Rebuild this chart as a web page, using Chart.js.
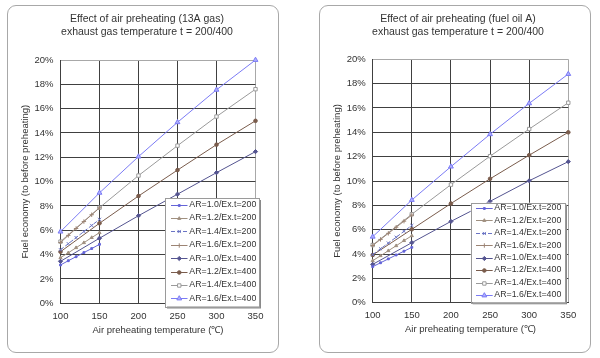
<!DOCTYPE html>
<html><head><meta charset="utf-8">
<script src="https://cdn.jsdelivr.net/npm/chart.js@4.4.1/dist/chart.umd.min.js"></script>
<style>
html,body{margin:0;padding:0;background:#fff;}
body{width:600px;height:358px;position:relative;overflow:hidden;}
.panel{position:absolute;top:5px;height:348px;border:1px solid #a8a8a8;border-radius:9px;box-sizing:border-box;background:#fff;}
canvas{position:absolute;top:5px;}
</style></head><body>
<div class="panel" style="left:7px;width:272px"></div>
<div class="panel" style="left:319px;width:272px"></div>
<canvas id="c1" width="271" height="348" style="left:8px"></canvas>
<canvas id="c2" width="271" height="348" style="left:320px"></canvas>
<script>
// ---------- DATA ----------
const xTickValues = [100, 150, 200, 250, 300, 350];
const xT200 = [100, 110, 120, 130, 140, 150];
const xT400 = [100, 150, 200, 250, 300, 350];
const seriesLabels = ['AR=1.0/Ex.t=200','AR=1.2/Ex.t=200','AR=1.4/Ex.t=200','AR=1.6/Ex.t=200',
                      'AR=1.0/Ex.t=400','AR=1.2/Ex.t=400','AR=1.4/Ex.t=400','AR=1.6/Ex.t=400'];
const titleGas = ['Effect of air preheating (13A gas)', 'exhaust gas temperature t = 200/400'];
const titleOil = ['Effect of air preheating (fuel oil A)', 'exhaust gas temperature t = 200/400'];
const xTitle = 'Air preheating temperature (\u2103)';
const yTitle = 'Fuel economy (to before preheating)';

// 13A gas (percent)
const gasAR10t200 = [3.15, 3.5, 3.83, 4.17, 4.5, 4.85];
const gasAR12t200 = [3.75, 4.15, 4.57, 4.98, 5.4, 5.8];
const gasAR14t200 = [4.4, 4.9, 5.4, 5.9, 6.4, 6.9];
const gasAR16t200 = [5.0, 5.58, 6.15, 6.72, 7.28, 7.85];
const gasAR10t400 = [3.45, 5.35, 7.2, 8.97, 10.74, 12.47];
const gasAR12t400 = [4.24, 6.58, 8.82, 10.95, 13.04, 15.0];
const gasAR14t400 = [5.07, 7.86, 10.5, 12.96, 15.35, 17.6];
const gasAR16t400 = [5.89, 9.08, 12.06, 14.88, 17.55, 20.0];

// fuel oil A (percent)
const oilAR10t200 = [2.96, 3.28, 3.6, 3.92, 4.23, 4.55];
const oilAR12t200 = [3.45, 3.86, 4.27, 4.68, 5.1, 5.5];
const oilAR14t200 = [3.95, 4.43, 4.9, 5.38, 5.87, 6.35];
const oilAR16t200 = [4.7, 5.2, 5.7, 6.2, 6.7, 7.2];
const oilAR10t400 = [3.15, 4.93, 6.68, 8.33, 10.02, 11.59];
const oilAR12t400 = [3.92, 6.03, 8.15, 10.18, 12.12, 14.0];
const oilAR14t400 = [4.74, 7.27, 9.7, 12.04, 14.27, 16.43];
const oilAR16t400 = [5.42, 8.44, 11.18, 13.84, 16.38, 18.79];

// ---------- STYLES ----------
const styles = [
  {color:'#6464d8', pointStyle:'rect', radius:1.3, dash:[], fill:'#6464d8'},
  {color:'#a09080', pointStyle:'triangle', radius:1.8, dash:[], fill:'#a09080'},
  {color:'#6a74c4', pointStyle:'crossRot', radius:2.2, dash:[4,2], fill:'#6a74c4'},
  {color:'#9c8474', pointStyle:'cross', radius:2.2, dash:[], fill:'#9c8474'},
  {color:'#545490', pointStyle:'rectRot', radius:2.1, dash:[], fill:'#545490'},
  {color:'#7a5c4c', pointStyle:'circle', radius:1.8, dash:[], fill:'#7a5c4c'},
  {color:'#9a9a9a', pointStyle:'rect', radius:2.4, dash:[], fill:'#ffffff'},
  {color:'#7b7bf5', pointStyle:'triangle', radius:2.8, dash:[], fill:'#b0b0ff'}
];

function pts(xs, ys){ return xs.map((x,i)=>({x:x, y:ys[i]})); }

function makeDatasets(vals){
  return vals.map((v,i)=>({
    label: seriesLabels[i],
    data: pts(i<4 ? xT200 : xT400, v),
    borderColor: styles[i].color,
    backgroundColor: styles[i].fill,
    pointBorderColor: styles[i].color,
    pointBackgroundColor: styles[i].fill,
    pointStyle: styles[i].pointStyle,
    pointRadius: styles[i].radius,
    pointBorderWidth: 1,
    borderWidth: 1,
    borderDash: styles[i].dash,
    tension: 0,
    clip: 6
  }));
}

const FONT = '"Liberation Sans", Arial, sans-serif';

const boxLegend = {
  id: 'boxLegend',
  afterDatasetsDraw(chart, args, o) {
    const ctx = chart.ctx;
    ctx.save();
    ctx.fillStyle = '#8a8a8a';
    ctx.fillRect(o.x + 2, o.y + 2, o.w, o.h);
    ctx.fillStyle = '#ffffff';
    ctx.fillRect(o.x, o.y, o.w, o.h);
    ctx.strokeStyle = '#9a9a9a';
    ctx.lineWidth = 1;
    ctx.strokeRect(Math.round(o.x) + 0.5, Math.round(o.y) + 0.5, Math.round(o.w), Math.round(o.h));
    ctx.font = '8.8px ' + FONT;
    ctx.textBaseline = 'middle';
    ctx.textAlign = 'left';
    chart.data.datasets.forEach((ds, i) => {
      const y = o.row0 + i * o.rowH;
      const st = styles[i];
      ctx.strokeStyle = st.color;
      ctx.lineWidth = 1;
      ctx.setLineDash(st.dash);
      ctx.beginPath();
      ctx.moveTo(o.s0, Math.round(y) + 0.5);
      ctx.lineTo(o.s1, Math.round(y) + 0.5);
      ctx.stroke();
      ctx.setLineDash([]);
      ctx.fillStyle = st.fill;
      Chart.helpers.drawPoint(ctx, {pointStyle: st.pointStyle, radius: st.radius, rotation: 0, borderWidth: 1}, (o.s0 + o.s1) / 2, Math.round(y) + 0.5);
      ctx.fillStyle = '#333333';
      ctx.fillText(ds.label, o.tx, y);
    });
    ctx.restore();
  }
};

function makeChart(id, vals, title, lay) {
  const W = 271, H = 348;
  return new Chart(document.getElementById(id), {
    type: 'line',
    data: { datasets: makeDatasets(vals) },
    options: {
      responsive: false,
      animation: false,
      devicePixelRatio: 1,
      layout: { padding: { left: lay.padL, top: 0, bottom: 0, right: 0 } },
      plugins: {
        legend: { display: false },
        tooltip: { enabled: false },
        title: {
          display: true,
          text: title,
          color: '#333333',
          font: { family: FONT, size: 10.5, weight: 'normal', lineHeight: 1.25 },
          padding: { top: lay.titleTop, bottom: lay.top - lay.titleTop - 26.25 }
        },
        boxLegend: lay.legend
      },
      scales: {
        x: {
          type: 'linear',
          min: 100, max: 350,
          afterBuildTicks: (s) => { s.ticks = xTickValues.map(v => ({value: v})); },
          afterFit: (s) => { s.height = H - lay.bottom; },
          ticks: { color: '#333333', font: { family: FONT, size: 9.5 }, padding: 7, maxRotation: 0 },
          grid: { color: (c) => (c.tick && c.tick.value === 350) ? '#a8a8a8' : '#404040', lineWidth: 1, drawTicks: false },
          border: { color: '#404040', width: 1 },
          title: { display: true, text: xTitle, color: '#333333', font: { family: FONT, size: 9.5 }, padding: { top: 0, bottom: lay.xTitleB } }
        },
        y: {
          min: 0, max: 20,
          ticks: { stepSize: 2, color: '#333333', font: { family: FONT, size: 9.5 }, padding: 7, callback: (v) => v + '%' },
          afterFit: (s) => { s.width = lay.left - lay.padL; },
          grid: { color: (c) => (c.tick && c.tick.value === 20) ? '#a8a8a8' : '#404040', lineWidth: 1, drawTicks: false },
          border: { color: '#404040', width: 1 },
          title: { display: true, text: yTitle, color: '#333333', font: { family: FONT, size: 9.5 }, padding: { top: lay.yTitleX - lay.padL - 5.7, bottom: 0 } }
        },
        spacer: {
          type: 'linear',
          position: 'right',
          display: true,
          ticks: { display: false },
          grid: { display: false, drawTicks: false },
          border: { display: false },
          afterFit: (s) => { s.width = W - lay.right; }
        }
      }
    },
    plugins: [boxLegend]
  });
}

makeChart('c1',
  [gasAR10t200, gasAR12t200, gasAR14t200, gasAR16t200, gasAR10t400, gasAR12t400, gasAR14t400, gasAR16t400],
  titleGas,
  { padL: 7, left: 52.5, right: 247.5, top: 55, bottom: 298.3, titleTop: 7.7, xTitleB: 17.3, yTitleX: 17,
    legend: { x: 157, y: 193, w: 94, h: 108.5, row0: 199.5, rowH: 13.4, s0: 163, s1: 179.5, tx: 181.3 } });

makeChart('c2',
  [oilAR10t200, oilAR12t200, oilAR14t200, oilAR16t200, oilAR10t400, oilAR12t400, oilAR14t400, oilAR16t400],
  titleOil,
  { padL: 5, left: 52.7, right: 248.3, top: 54.3, bottom: 297.7, titleTop: 7.7, xTitleB: 18, yTitleX: 17.7,
    legend: { x: 150.7, y: 197.7, w: 94.3, h: 99.6, row0: 202.7, rowH: 12.47, s0: 156, s1: 172.7, tx: 174.3 } });
</script>
</body></html>
